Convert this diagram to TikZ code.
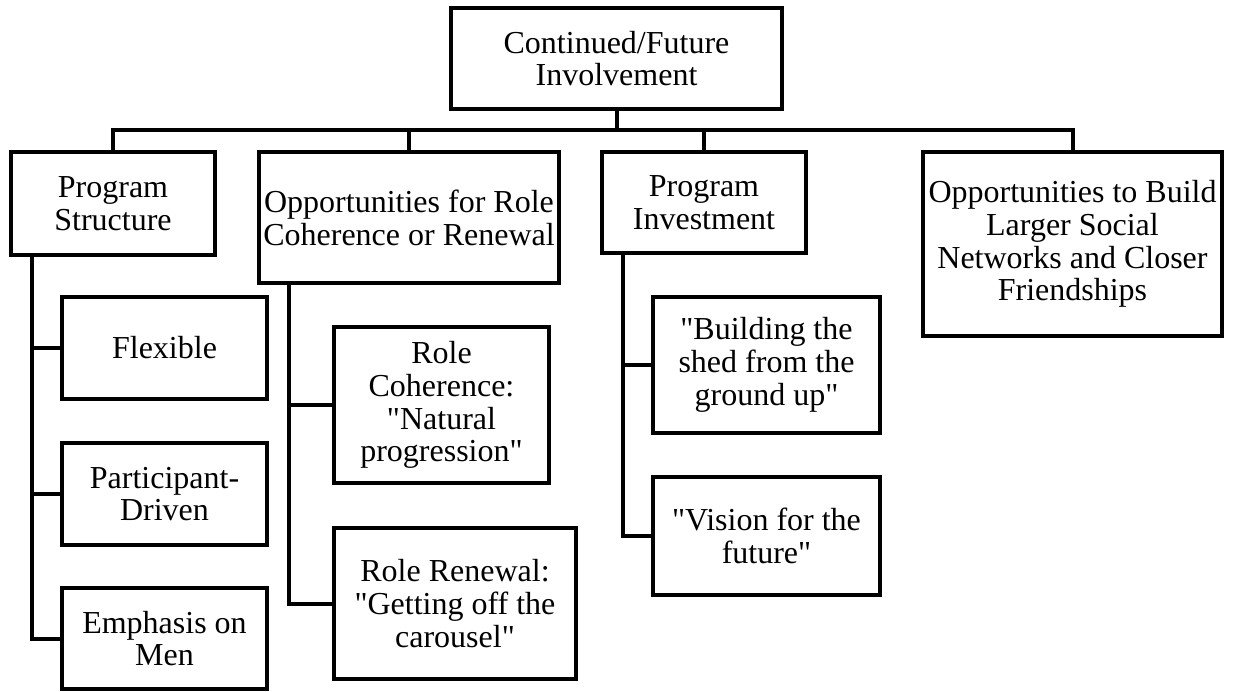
\documentclass[tikz,border=0pt]{standalone}
\usepackage{fontspec}
\setmainfont{Liberation Serif}[Ligatures=TeXOff]
\begin{document}
\begin{tikzpicture}[x=1pt,y=-1pt,
  box/.style={draw, line width=4pt, inner sep=0pt, outer sep=0pt, align=center,
    font=\fontsize{32}{32.8}\selectfont},
  link/.style={line width=4pt}]
\useasboundingbox (0,0) rectangle (1238,691);
% level 0
\node[box, minimum width=331pt, minimum height=101pt] (top) at (616.5,58.5) {Continued/Future\\Involvement};
% level 1
\node[box, minimum width=204pt, minimum height=103pt] (ps) at (113,203.5) {Program\\Structure};
\node[box, minimum width=300pt, minimum height=131pt] (or) at (409,217.5) {Opportunities for Role\\Coherence or Renewal};
\node[box, minimum width=204pt, minimum height=101pt] (pi) at (704,202.5) {Program\\Investment};
\node[box, minimum width=299pt, minimum height=184pt] (ob) at (1072.5,244) {Opportunities to Build\\Larger Social\\Networks and Closer\\Friendships};
% level 2
\node[box, minimum width=205pt, minimum height=102pt] (flex) at (164.5,348) {Flexible};
\node[box, minimum width=205pt, minimum height=102pt] (part) at (164.5,494) {Participant-\\Driven};
\node[box, minimum width=205pt, minimum height=101pt] (emph) at (164.5,638.5) {Emphasis on\\Men};
\node[box, minimum width=215pt, minimum height=156pt] (rc) at (441.5,405) {Role\\Coherence:\\"Natural\\progression"};
\node[box, minimum width=242pt, minimum height=151pt] (rr) at (455,603.5) {Role Renewal:\\"Getting off the\\carousel"};
\node[box, minimum width=227pt, minimum height=136pt] (bld) at (766.5,365) {"Building the\\shed from the\\ground up"};
\node[box, minimum width=227pt, minimum height=118pt] (vis) at (766.5,536) {"Vision for the\\future"};
% bus
\coordinate (bus) at (616.5,130);
\draw[link] (top.south) -- (bus);
\draw[link] (ps.north) -- (ps.north |- bus) -- (ob.north |- bus) -- (ob.north);
\draw[link] (or.north) -- (or.north |- bus);
\draw[link] (pi.north) -- (pi.north |- bus);
% children of Program Structure
\coordinate (psv) at (32,255);
\draw[link] (psv) |- (emph.west);
\draw[link] (psv |- flex.west) -- (flex.west);
\draw[link] (psv |- part.west) -- (part.west);
% children of Opportunities for Role
\coordinate (orv) at (289,283);
\draw[link] (orv) |- (rr.west);
\draw[link] (orv |- rc.west) -- (rc.west);
% children of Program Investment
\coordinate (piv) at (623,253);
\draw[link] (piv) |- (vis.west);
\draw[link] (piv |- bld.west) -- (bld.west);
\end{tikzpicture}
\end{document}
